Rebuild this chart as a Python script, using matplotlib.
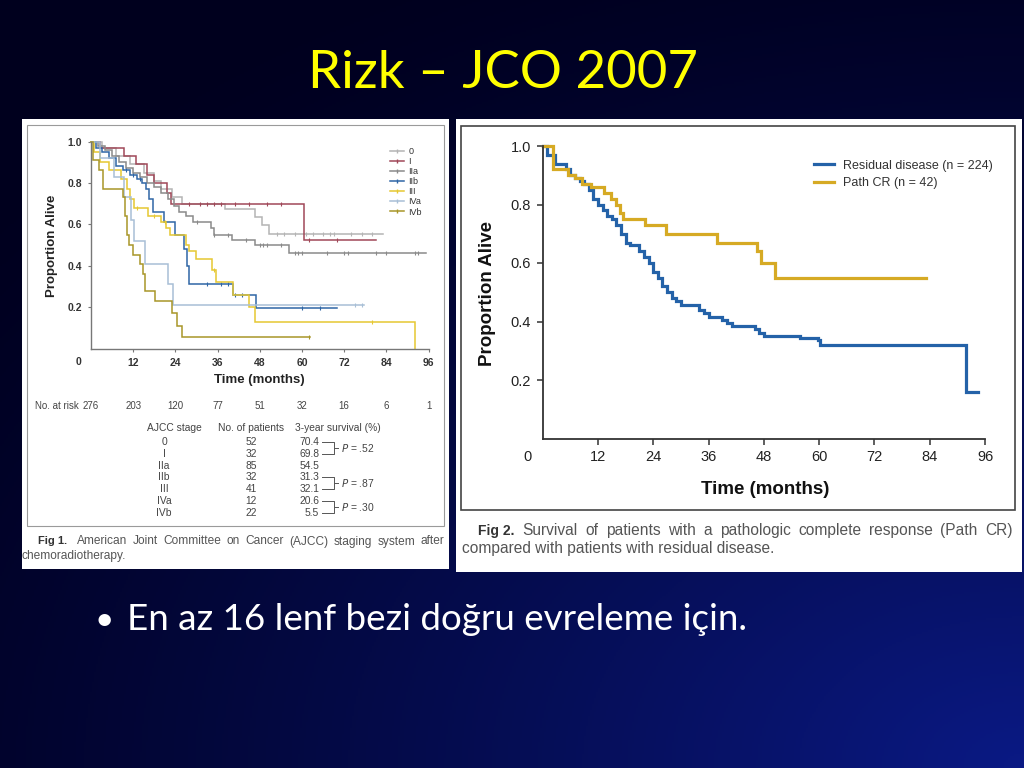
import numpy as np
import matplotlib
matplotlib.use('Agg')
import matplotlib.pyplot as plt
from matplotlib.patches import Rectangle
from matplotlib.lines import Line2D

plt.rcParams['font.family'] = ['Liberation Sans', 'DejaVu Sans']

'''
Data read off the slide
'''

month_ticks = [12, 24, 36, 48, 60, 72, 84, 96]
prop_ticks = [0.2, 0.4, 0.6, 0.8, 1.0]

# Fig 1 - survival by AJCC stage after chemoradiotherapy
stage_names = ['0', 'I', 'IIa', 'IIb', 'III', 'IVa', 'IVb']
stage_colors = ['#b4b4b4', '#a04858', '#8a8a8a', '#2f66a6', '#e6c832', '#a8bfd6', '#a89628']

s0_t = [0, 3, 7, 11, 15, 18, 20, 23, 26, 38, 46.6, 48.6, 50.7]
s0_y = [1.0, 0.97, 0.93, 0.89, 0.85, 0.81, 0.77, 0.73, 0.70, 0.672, 0.634, 0.597, 0.553]
s0_cens = [53, 55, 58, 61, 63, 66, 68, 69, 74, 77, 80]

s1_t = [0, 2.7, 9.3, 12.7, 16, 17.9, 21.7, 22.8, 60.5]
s1_y = [1.0, 0.97, 0.93, 0.89, 0.84, 0.80, 0.75, 0.70, 0.524]
s1_cens = [28, 31, 33, 35, 37, 41, 45, 50, 54, 62, 70]

s2a_t = [0, 2, 4, 6, 8, 10, 12, 14, 16, 18, 20, 22, 23.5, 25, 27, 29, 34, 35, 40, 46.5, 56.4]
s2a_y = [1.0, 0.98, 0.96, 0.93, 0.90, 0.87, 0.85, 0.83, 0.80, 0.78, 0.75, 0.72, 0.69,
         0.66, 0.64, 0.61, 0.58, 0.55, 0.524, 0.50, 0.463]
s2a_cens = [30, 35, 39, 44, 48, 49, 50, 54, 58, 59, 60, 67, 72, 73, 81, 84, 92, 93]

s2b_t = [0, 1.5, 3, 5, 7, 9, 11, 13, 14.5, 15.5, 16.5, 17.5, 20.8, 24, 26.5, 27.2, 28, 40.5, 47]
s2b_y = [1.0, 0.97, 0.95, 0.92, 0.88, 0.86, 0.84, 0.82, 0.80, 0.77, 0.72, 0.66, 0.61,
         0.55, 0.48, 0.40, 0.31, 0.258, 0.194]
s2b_cens = [10, 12, 14, 33, 37, 39, 41, 43, 60, 65]

s3_t = [0, 0.8, 2.5, 5, 8.4, 10.3, 11, 12.2, 16.3, 20, 21.2, 22.5, 27, 28, 29.8, 34.3,
        35.5, 40.5, 45, 46.5, 92.2]
s3_y = [1.0, 0.95, 0.90, 0.86, 0.82, 0.77, 0.72, 0.68, 0.64, 0.61, 0.58, 0.55, 0.50,
        0.47, 0.43, 0.38, 0.32, 0.26, 0.20, 0.13, 0.0]
s3_cens = [13, 18, 21, 35, 80]

s4a_t = [0, 2.5, 6.5, 9.5, 11.5, 12.2, 15.4, 22, 23.4]
s4a_y = [1.0, 0.92, 0.83, 0.73, 0.62, 0.52, 0.41, 0.31, 0.21]
s4a_cens = [75, 77]

s4b_t = [0, 0.5, 2.2, 3.5, 9.2, 9.8, 10.3, 10.8, 12, 14, 14.8, 15.4, 18.2, 22.9, 24.4, 25.8]
s4b_y = [1.0, 0.91, 0.86, 0.77, 0.73, 0.64, 0.55, 0.50, 0.45, 0.41, 0.36, 0.28, 0.23,
         0.17, 0.11, 0.057]
s4b_cens = [62]

stage_times = [s0_t, s1_t, s2a_t, s2b_t, s3_t, s4a_t, s4b_t]
stage_surv = [s0_y, s1_y, s2a_y, s2b_y, s3_y, s4a_y, s4b_y]
stage_end = [83.1, 81.0, 95.3, 69.9, 92.2, 77.6, 62.2]
stage_cens = [s0_cens, s1_cens, s2a_cens, s2b_cens, s3_cens, s4a_cens, s4b_cens]

at_risk_months = [0, 12, 24, 36, 48, 60, 72, 84, 96]
at_risk = [276, 203, 120, 77, 51, 32, 16, 6, 1]

table_n = [52, 32, 85, 32, 41, 12, 22]
table_surv = ['70.4', '69.8', '54.5', '31.3', '32.1', '20.6', '5.5']
p_pairs = [(0, 1, '.52'), (3, 4, '.87'), (5, 6, '.30')]

# Fig 2 - path CR vs residual disease
res_t = [0, 1, 2.6, 5, 6, 7, 8, 9, 10, 11, 12, 13, 14, 15, 16, 17, 18, 19, 21, 22, 23, 24,
         25, 26, 27, 28, 29, 30, 34, 35, 36, 39, 40, 41, 46, 47, 48, 55.9, 59.8, 60.2, 91.8]
res_y = [1.0, 0.97, 0.94, 0.92, 0.90, 0.89, 0.88, 0.87, 0.85, 0.82, 0.80, 0.78, 0.76, 0.75,
         0.73, 0.70, 0.67, 0.66, 0.64, 0.62, 0.60, 0.57, 0.55, 0.52, 0.50, 0.48, 0.47, 0.455,
         0.44, 0.43, 0.415, 0.405, 0.395, 0.385, 0.375, 0.36, 0.35, 0.342, 0.336, 0.319, 0.16]
res_end = 94.5

cr_t = [0, 2.2, 5.5, 7, 8.5, 10.4, 13.2, 14.8, 16, 16.8, 17.5, 22.2, 26.7, 37.8, 46.5, 47.3, 50.4]
cr_y = [1.0, 0.92, 0.90, 0.89, 0.87, 0.86, 0.84, 0.82, 0.80, 0.77, 0.75, 0.73, 0.70, 0.67,
        0.64, 0.60, 0.55]
cr_end = 83.3

'''
Slide layout helpers (pixel coordinates of a 1024x768 slide)
'''
W, H = 1024, 768
fig = plt.figure(figsize=(W / 100, H / 100), dpi=100)
renderer = fig.canvas.get_renderer()

def px_axes(l, t, r, b):
    return fig.add_axes([l / W, 1 - b / H, (r - l) / W, (b - t) / H])

def km(ax, t, y, end, color, lw):
    tt = list(t) + [end]
    yy = list(y) + [y[-1]]
    ax.step(tt, yy, where='post', color=color, lw=lw, clip_on=False, solid_joinstyle='miter')

def censor(ax, t, y, cens, color):
    idx = np.searchsorted(t, cens, side='right') - 1
    ax.plot(cens, np.array(y)[idx], '|', color=color, ms=3, mew=0.8, clip_on=False)

def justify(x0, x1, y, text, **kw):
    # spread the words of one caption line between x0 and x1 (pixels), y is the baseline
    words = text.split()
    objs = [bg.text(0, y, w, ha='left', va='baseline', **kw) for w in words]
    widths = [o.get_window_extent(renderer).width for o in objs]
    gap = (x1 - x0 - sum(widths)) / (len(words) - 1)
    x = x0
    for o, w in zip(objs, widths):
        o.set_x(x)
        x += w + gap

# background
bg = fig.add_axes([0, 0, 1, 1])
bg.set_xlim(0, W)
bg.set_ylim(H, 0)
bg.axis('off')
yy, xx = np.mgrid[0:1:384j, 0:1:512j]
d = np.sqrt(0.8 * (1 - xx) ** 2 + (1 - yy) ** 2)
tg = np.clip(1 - d / 1.15, 0, 1) ** 1.3
c0 = np.array([0.0, 0.0, 0.12])
c1 = np.array([0.04, 0.10, 0.52])
bg.imshow(c0 + tg[..., None] * (c1 - c0), extent=[0, W, H, 0], aspect='auto', zorder=0)

bg.text(503, 88, 'Rizk \u2013 JCO 2007', color='#ffff00', fontsize=38, family='Lato',
        ha='center', va='baseline')
bg.text(94, 630, '\u2022', color='white', fontsize=24, family='Lato', ha='left', va='baseline')
bg.text(127, 630, 'En az 16 lenf bezi do\u011fru evreleme i\u00e7in.', color='white',
        fontsize=26.5, family='Lato', ha='left', va='baseline')

# white panels
bg.add_patch(Rectangle((22, 119), 427, 450, fc='white', ec='none', zorder=1))
bg.add_patch(Rectangle((27, 125), 417, 401, fc='none', ec='#9a9a9a', lw=0.8, zorder=2))
bg.add_patch(Rectangle((456, 119), 566, 453, fc='white', ec='none', zorder=1))
bg.add_patch(Rectangle((461, 126), 554, 384, fc='none', ec='#444444', lw=1.2, zorder=2))

'''
Fig 1
'''
ax1 = px_axes(91, 141.5, 428.6, 348.5)
ax1.patch.set_alpha(0)
for i in range(len(stage_names)):
    km(ax1, stage_times[i], stage_surv[i], stage_end[i], stage_colors[i], 1.1)
    censor(ax1, stage_times[i], stage_surv[i], stage_cens[i], stage_colors[i])
ax1.set_xlim(0, 96)
ax1.set_ylim(0, 1.0)
ax1.set_xticks(month_ticks)
ax1.set_yticks(prop_ticks)
ax1.set_yticklabels(['%.1f' % v for v in prop_ticks])
for s in ['top', 'right']:
    ax1.spines[s].set_visible(False)
for s in ['left', 'bottom']:
    ax1.spines[s].set_color('#777777')
    ax1.spines[s].set_linewidth(1.0)
ax1.tick_params(length=2.5, width=0.8, color='#777777', labelsize=7.5, labelcolor='#333333', pad=4)
for lab in ax1.get_xticklabels() + ax1.get_yticklabels():
    lab.set_fontweight('bold')
ax1.annotate('0', xy=(0, 0), xytext=(-9, -9.5), textcoords='offset points', ha='center',
             va='center', fontsize=7.5, color='#333333', fontweight='bold')
ax1.text(-0.1155, 0.495, 'Proportion Alive', transform=ax1.transAxes, rotation=90,
         ha='center', va='center', fontsize=9.5, fontweight='bold', color='#222222')
ax1.text(0.5, -0.152, 'Time (months)', transform=ax1.transAxes, ha='center', va='center',
         fontsize=9.5, fontweight='bold', color='#222222')
handles = [Line2D([], [], color=c, lw=1.1, marker='|', ms=3) for c in stage_colors]
ax1.legend(handles, stage_names, loc='upper left', bbox_to_anchor=(0.871, 0.995), frameon=False,
           fontsize=6.5, handlelength=1.6, handletextpad=0.5, labelspacing=0.12, borderpad=0,
           labelcolor='#333333')

# number at risk
ax1.text(-0.166, -0.278, 'No. at risk', transform=ax1.transAxes, ha='left', va='center',
         fontsize=7, color='#444444')
for m, n in zip(at_risk_months, at_risk):
    ax1.text(m, -0.278, str(n), transform=ax1.get_xaxis_transform(), ha='center', va='center',
             fontsize=7, color='#444444', clip_on=False)

# stage table
tk = dict(fontsize=7.4, color='#444444', va='center', zorder=3)
bg.text(147, 428, 'AJCC stage', ha='left', **tk)
bg.text(251, 428, 'No. of patients', ha='center', **tk)
bg.text(295, 428, '3-year survival (%)', ha='left', **tk)
row_y = [441.7 + 11.93 * i for i in range(len(stage_names))]
for i in range(len(stage_names)):
    bg.text(164, row_y[i], stage_names[i], ha='center', **tk)
    bg.text(251, row_y[i], str(table_n[i]), ha='center', **tk)
    bg.text(319, row_y[i], table_surv[i], ha='right', **tk)
for a, b, p in p_pairs:
    ya, yb = row_y[a], row_y[b]
    bg.plot([322, 334, 334, 322], [ya, ya, yb, yb], color='#555555', lw=0.7, zorder=3)
    bg.plot([334, 338], [(ya + yb) / 2] * 2, color='#555555', lw=0.7, zorder=3)
    bg.text(341, (ya + yb) / 2, '$P$ = ' + p, ha='left', **tk)

bg.text(38, 544.5, 'Fig 1.', ha='left', va='baseline', fontsize=8, fontweight='bold',
        color='#333333', zorder=3)
justify(77, 444, 544.5, 'American Joint Committee on Cancer (AJCC) staging system after',
        fontsize=8.6, color='#555555', zorder=3)
bg.text(22, 559.5, 'chemoradiotherapy.', ha='left', va='baseline', fontsize=8.6,
        color='#555555', zorder=3)

'''
Fig 2
'''
ax2 = px_axes(542.7, 146, 985, 438.5)
ax2.patch.set_alpha(0)
km(ax2, res_t, res_y, res_end, '#2462a8', 2.3)
km(ax2, cr_t, cr_y, cr_end, '#d6aa24', 2.3)
ax2.set_xlim(0, 96)
ax2.set_ylim(0, 1.0)
ax2.set_xticks(month_ticks)
ax2.set_yticks(prop_ticks)
ax2.set_yticklabels(['%.1f' % v for v in prop_ticks])
for s in ['top', 'right']:
    ax2.spines[s].set_visible(False)
for s in ['left', 'bottom']:
    ax2.spines[s].set_color('#333333')
    ax2.spines[s].set_linewidth(1.3)
ax2.tick_params(length=4, width=1.1, color='#333333', labelsize=10.5, labelcolor='#222222', pad=4.5)
ax2.annotate('0', xy=(0, 0), xytext=(-11.3, -13.3), textcoords='offset points', ha='center',
             va='center', fontsize=10.5, color='#222222')
ax2.text(-0.124, 0.497, 'Proportion Alive', transform=ax2.transAxes, rotation=90,
         ha='center', va='center', fontsize=13.5, fontweight='bold', color='#111111')
ax2.text(0.503, -0.176, 'Time (months)', transform=ax2.transAxes, ha='center', va='center',
         fontsize=13.5, fontweight='bold', color='#111111')
ax2.legend([Line2D([], [], color='#2462a8', lw=2.3), Line2D([], [], color='#d6aa24', lw=2.3)],
           ['Residual disease (n = 224)', 'Path CR (n = 42)'], loc='upper left',
           bbox_to_anchor=(0.6, 0.975), frameon=False, fontsize=9, handlelength=1.6,
           handletextpad=0.7, labelspacing=0.45, borderpad=0, labelcolor='#333333')

bg.text(478, 535, 'Fig 2.', ha='left', va='baseline', fontsize=10, fontweight='bold',
        color='#333333', zorder=3)
justify(522, 1013, 535, 'Survival of patients with a pathologic complete response (Path CR)',
        fontsize=11.2, color='#555555', zorder=3)
bg.text(462, 553, 'compared with patients with residual disease.', ha='left', va='baseline',
        fontsize=11.2, color='#555555', zorder=3)

plt.savefig('out.png', dpi=100)
